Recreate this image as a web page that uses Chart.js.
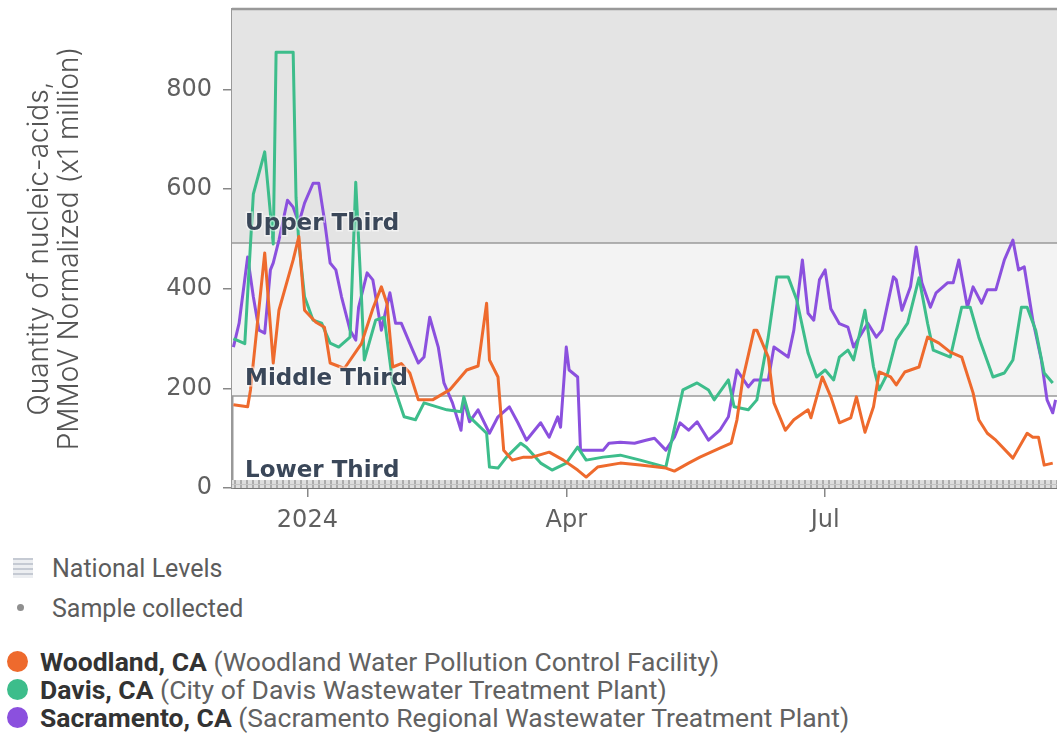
<!DOCTYPE html>
<html>
<head>
<meta charset="utf-8">
<script src="https://cdn.jsdelivr.net/npm/chart.js@4.4.1/dist/chart.umd.min.js"></script>
<style>
  html, body { margin:0; padding:0; background:#fff; width:1057px; height:737px; overflow:hidden; }
  #wrap { position:absolute; left:0; top:0; width:1057px; height:545px; }
  .leg { position:absolute; left:0; height:28px; display:flex; align-items:center; white-space:nowrap;
         font-family:Roboto, "Noto Sans", sans-serif; font-size:26.5px; color:#626262; }
  .leg.small { font-size:25px; color:#5c5c5c; }
  .leg b { color:#333; font-weight:700; }
  .sw { position:absolute; }
</style>
</head>
<body>
<div id="wrap"><canvas id="c"></canvas></div>
<div id="legend"></div>
<script>
// ---------- data ----------
const axisRange = ['2023-12-05T12:00:00Z', '2024-09-20T12:00:00Z'];
const tickDates = ['2024-01-01', '2024-04-01', '2024-07-01'];
const tickLabels = ['2024', 'Apr', 'Jul'];
const yTicks = [0, 200, 400, 600, 800];
const yMax = 962;
const bandLevels = [16, 185, 492];           // national lower / middle / upper third thresholds
const bandLabels = ['Lower Third', 'Middle Third', 'Upper Third'];

const seriesNames = ['Woodland, CA', 'Davis, CA', 'Sacramento, CA'];
const seriesPlants = ['(Woodland Water Pollution Control Facility)', '(City of Davis Wastewater Treatment Plant)', '(Sacramento Regional Wastewater Treatment Plant)'];

const woodlandDates = ['2023-12-06','2023-12-11','2023-12-12','2023-12-17','2023-12-20','2023-12-22','2023-12-27','2023-12-29','2023-12-31',
 '2024-01-04','2024-01-07','2024-01-09','2024-01-14','2024-01-20','2024-01-24','2024-01-27','2024-01-29','2024-01-31',
 '2024-02-03','2024-02-06','2024-02-09','2024-02-14','2024-02-20','2024-02-26','2024-03-01','2024-03-04','2024-03-05','2024-03-08',
 '2024-03-10','2024-03-13','2024-03-17','2024-03-20','2024-03-26','2024-03-31','2024-04-05','2024-04-08','2024-04-12','2024-04-20',
 '2024-04-27','2024-05-06','2024-05-09','2024-05-14','2024-05-18','2024-05-25','2024-05-29','2024-05-31','2024-06-02','2024-06-06',
 '2024-06-07','2024-06-11','2024-06-13','2024-06-17','2024-06-20','2024-06-25','2024-06-26','2024-06-30','2024-07-03','2024-07-06',
 '2024-07-10','2024-07-12','2024-07-15','2024-07-18','2024-07-20','2024-07-24','2024-07-26','2024-07-29','2024-08-03','2024-08-06',
 '2024-08-10','2024-08-14','2024-08-18','2024-08-22','2024-08-24','2024-08-27','2024-08-30','2024-09-05','2024-09-10','2024-09-12',
 '2024-09-14','2024-09-16','2024-09-19'];
const woodlandValues = [167,163,197,472,251,357,458,505,357,
 333,323,251,240,290,360,404,370,243,
 250,231,177,177,197,237,245,371,257,223,
 76,56,62,62,72,56,36,22,42,50,
 46,40,34,50,62,80,90,137,217,317,
 317,263,171,116,137,157,141,223,183,131,
 141,183,112,163,233,223,207,233,243,303,
 291,273,263,191,137,110,96,60,110,102,
 102,46,50];

const davisDates = ['2023-12-06','2023-12-10','2023-12-13','2023-12-17','2023-12-20','2023-12-21','2023-12-27','2023-12-28','2023-12-29','2023-12-31',
 '2024-01-03','2024-01-06','2024-01-09','2024-01-12','2024-01-16','2024-01-18','2024-01-20','2024-01-21','2024-01-25','2024-01-28','2024-01-31',
 '2024-02-04','2024-02-08','2024-02-11','2024-02-19','2024-02-24','2024-02-25','2024-02-27','2024-03-04','2024-03-05','2024-03-08',
 '2024-03-11','2024-03-16','2024-03-18','2024-03-23','2024-03-27','2024-04-01','2024-04-05','2024-04-08','2024-04-14','2024-04-20',
 '2024-04-27','2024-05-06','2024-05-12','2024-05-17','2024-05-21','2024-05-23','2024-05-28','2024-05-30','2024-06-04','2024-06-07',
 '2024-06-11','2024-06-14','2024-06-18','2024-06-21','2024-06-25','2024-06-28','2024-07-01','2024-07-04','2024-07-06','2024-07-09',
 '2024-07-11','2024-07-15','2024-07-18','2024-07-20','2024-07-23','2024-07-26','2024-07-30','2024-08-03','2024-08-06','2024-08-08',
 '2024-08-14','2024-08-18','2024-08-21','2024-08-24','2024-08-29','2024-09-02','2024-09-05','2024-09-08','2024-09-10','2024-09-13',
 '2024-09-16','2024-09-19'];
const davisValues = [300,290,590,675,490,875,875,584,492,384,
 337,331,291,283,303,614,384,257,337,343,211,
 143,137,171,157,153,183,143,110,42,40,
 62,90,82,50,36,50,82,56,62,66,
 56,42,197,211,197,177,217,163,157,177,
 303,424,424,378,271,223,237,217,263,277,
 257,357,243,197,231,297,331,422,331,277,
 263,363,363,303,223,231,257,363,363,317,
 231,211];

const sacramentoDates = ['2023-12-06','2023-12-08','2023-12-11','2023-12-13','2023-12-15','2023-12-17','2023-12-19','2023-12-20','2023-12-22','2023-12-25',
 '2023-12-27','2023-12-29','2023-12-31','2024-01-03','2024-01-05','2024-01-07','2024-01-09','2024-01-11','2024-01-13','2024-01-16',
 '2024-01-18','2024-01-19','2024-01-22','2024-01-24','2024-01-27','2024-01-30','2024-02-01','2024-02-03','2024-02-07','2024-02-09',
 '2024-02-11','2024-02-13','2024-02-16','2024-02-18','2024-02-21','2024-02-24','2024-02-25','2024-02-27','2024-03-01','2024-03-05',
 '2024-03-08','2024-03-12','2024-03-15','2024-03-18','2024-03-20','2024-03-23','2024-03-26','2024-03-29','2024-03-30','2024-04-01',
 '2024-04-02','2024-04-05','2024-04-06','2024-04-09','2024-04-14','2024-04-16','2024-04-20','2024-04-25','2024-04-29','2024-05-02',
 '2024-05-06','2024-05-09','2024-05-11','2024-05-14','2024-05-17','2024-05-21','2024-05-25','2024-05-28','2024-05-31','2024-06-04',
 '2024-06-06','2024-06-11','2024-06-13','2024-06-18','2024-06-20','2024-06-23','2024-06-25','2024-06-27','2024-06-29','2024-07-01',
 '2024-07-03','2024-07-06','2024-07-09','2024-07-11','2024-07-13','2024-07-16','2024-07-19','2024-07-21','2024-07-25','2024-07-26',
 '2024-07-28','2024-07-31','2024-08-02','2024-08-04','2024-08-07','2024-08-09','2024-08-13','2024-08-15','2024-08-17','2024-08-20',
 '2024-08-22','2024-08-25','2024-08-27','2024-08-30','2024-09-02','2024-09-05','2024-09-07','2024-09-09','2024-09-12','2024-09-15',
 '2024-09-17','2024-09-19','2024-09-20'];
const sacramentoValues = [283,331,464,384,317,311,438,452,498,578,
 564,532,572,612,612,538,452,438,384,317,
 297,363,432,418,317,392,331,331,277,251,
 263,343,283,211,171,116,177,133,157,110,
 143,163,131,96,110,131,102,143,122,283,
 237,223,76,76,76,90,92,90,96,100,
 76,102,131,116,133,96,116,143,237,203,
 217,217,283,263,317,458,351,337,418,438,
 360,330,323,283,303,331,303,317,424,418,
 357,404,484,412,363,392,412,412,458,363,
 404,371,398,398,458,498,438,444,337,257,
 177,151,177];

const seriesColors = ['#ee6a2d', '#3dbd8b', '#8b50de'];

// ---------- helpers ----------
const day0 = Date.parse('2024-01-01T00:00:00Z');
const dayNum = s => (Date.parse(s.length === 10 ? s + 'T00:00:00Z' : s) - day0) / 864e5;
const pts = (dates, vals) => dates.map((d, i) => ({ x: dayNum(d), y: vals[i] }));

// hatched pattern for lower band
const tile = document.createElement('canvas');
tile.width = 6; tile.height = 10;
{
  const t = tile.getContext('2d');
  t.fillStyle = '#dedede'; t.fillRect(0, 0, 6, 10);
  t.fillStyle = '#acacac'; t.fillRect(0, 0, 2, 10);
  t.fillStyle = '#c4c4c4'; t.fillRect(0, 4, 6, 1);
}

const bandPlugin = {
  id: 'bands',
  beforeDatasetsDraw(chart) {
    const { ctx, chartArea: a, scales: { y } } = chart;
    const yl = y.getPixelForValue(bandLevels[0]);
    const ym = y.getPixelForValue(bandLevels[1]);
    const yu = y.getPixelForValue(bandLevels[2]);
    ctx.save();
    ctx.fillStyle = '#e4e4e4'; ctx.fillRect(a.left, a.top, a.width, yu - a.top);
    ctx.fillStyle = '#f3f3f3'; ctx.fillRect(a.left, yu, a.width, ym - yu);
    ctx.fillStyle = ctx.createPattern(tile, 'repeat');
    ctx.fillRect(a.left, yl, a.width, a.bottom - yl);
    ctx.strokeStyle = '#9a9a9a'; ctx.lineWidth = 1.5;
    [yu, ym].forEach(p => { ctx.beginPath(); ctx.moveTo(a.left, p); ctx.lineTo(a.right, p); ctx.stroke(); });
    ctx.strokeStyle = '#999'; ctx.lineWidth = 2.5;
    ctx.beginPath(); ctx.moveTo(a.left, a.top); ctx.lineTo(a.right, a.top); ctx.stroke();
    ctx.restore();
  },
  afterDatasetsDraw(chart) {
    const { ctx, chartArea: a, scales: { y } } = chart;
    const offs = [3, 11, 13];
    ctx.save();
    ctx.font = '700 23px "DejaVu Sans", sans-serif';
    ctx.textBaseline = 'alphabetic';
    ctx.textAlign = 'left';
    bandLabels.forEach((lab, i) => {
      const py = y.getPixelForValue(bandLevels[i]) - offs[i];
      ctx.lineWidth = 3; ctx.strokeStyle = 'rgba(255,255,255,0.5)';
      ctx.strokeText(lab, a.left + 13, py);
      ctx.fillStyle = '#3a4759';
      ctx.fillText(lab, a.left + 13, py);
    });
    ctx.restore();
  }
};

const tickFont = { family: '"DejaVu Sans", sans-serif', size: 24, weight: 400 };

new Chart(document.getElementById('c'), {
  type: 'line',
  data: {
    datasets: [
      { label: seriesNames[0], data: pts(woodlandDates, woodlandValues), borderColor: seriesColors[0] },
      { label: seriesNames[1], data: pts(davisDates, davisValues), borderColor: seriesColors[1] },
      { label: seriesNames[2], data: pts(sacramentoDates, sacramentoValues), borderColor: seriesColors[2] }
    ]
  },
  options: {
    responsive: true,
    maintainAspectRatio: false,
    animation: false,
    layout: { padding: { top: 9, right: 0, left: 0, bottom: 0 } },
    elements: { point: { radius: 0 }, line: { borderWidth: 3, tension: 0, borderJoinStyle: 'round' } },
    plugins: { legend: { display: false }, tooltip: { enabled: false } },
    scales: {
      x: {
        type: 'linear',
        min: dayNum(axisRange[0]),
        max: dayNum(axisRange[1]),
        afterBuildTicks: s => { s.ticks = tickDates.map(d => ({ value: dayNum(d) })); },
        afterFit: s => { s.height = 57; s.paddingLeft = 0; s.paddingRight = 0; },
        ticks: { callback: (v, i) => tickLabels[i], font: tickFont, color: '#606060', padding: 9, maxRotation: 0, autoSkip: false },
        grid: { drawOnChartArea: false, drawTicks: true, tickLength: 9, color: '#888', lineWidth: 1.5 },
        border: { display: true, color: '#777', width: 2 }
      },
      y: {
        min: 0,
        max: yMax,
        afterBuildTicks: s => { s.ticks = yTicks.map(v => ({ value: v })); },
        afterFit: s => { s.width = 232; s.paddingTop = 0; s.paddingBottom = 0; },
        ticks: { font: tickFont, color: '#606060', padding: 11 },
        grid: { drawOnChartArea: false, drawTicks: true, tickLength: 9, color: '#888', lineWidth: 1.5 },
        border: { display: true, color: '#999', width: 2.5 },
        title: {
          display: true,
          text: ['Quantity of nucleic-acids,', 'PMMoV Normalized (x1 million)'],
          font: { family: 'Inter, "Open Sans", sans-serif', size: 28, weight: 300, lineHeight: '30px' },
          color: '#555',
          padding: { top: 25, bottom: 0 }
        }
      }
    }
  },
  plugins: [bandPlugin]
});

// ---------- legend (HTML) ----------
const legend = document.getElementById('legend');
function addRow(top, html, cls) {
  const d = document.createElement('div');
  d.className = 'leg' + (cls ? ' ' + cls : ''); d.style.top = (top - 14) + 'px';
  d.innerHTML = html; legend.appendChild(d); return d;
}
function addSwatch(css) {
  const s = document.createElement('div'); s.className = 'sw';
  Object.assign(s.style, css); legend.appendChild(s);
}
addSwatch({ left: '13px', top: '558px', width: '20px', height: '20px',
  background: 'repeating-linear-gradient(180deg,#c5cad3 0 2px,#eceef1 2px 5px)' });
addRow(568, '<span style="margin-left:52px">National Levels</span>', 'small');
addSwatch({ left: '17px', top: '604px', width: '7px', height: '7px', borderRadius: '50%', background: '#8f8f8f' });
addRow(608, '<span style="margin-left:52px">Sample collected</span>', 'small');
[661, 689, 717].forEach((yy, i) => {
  addSwatch({ left: '7px', top: (yy - 10) + 'px', width: '21px', height: '21px', borderRadius: '50%', background: seriesColors[i] });
  addRow(yy, '<span style="margin-left:40px"><b>' + seriesNames[i] + '</b> ' + seriesPlants[i] + '</span>');
});
</script>
</body>
</html>
